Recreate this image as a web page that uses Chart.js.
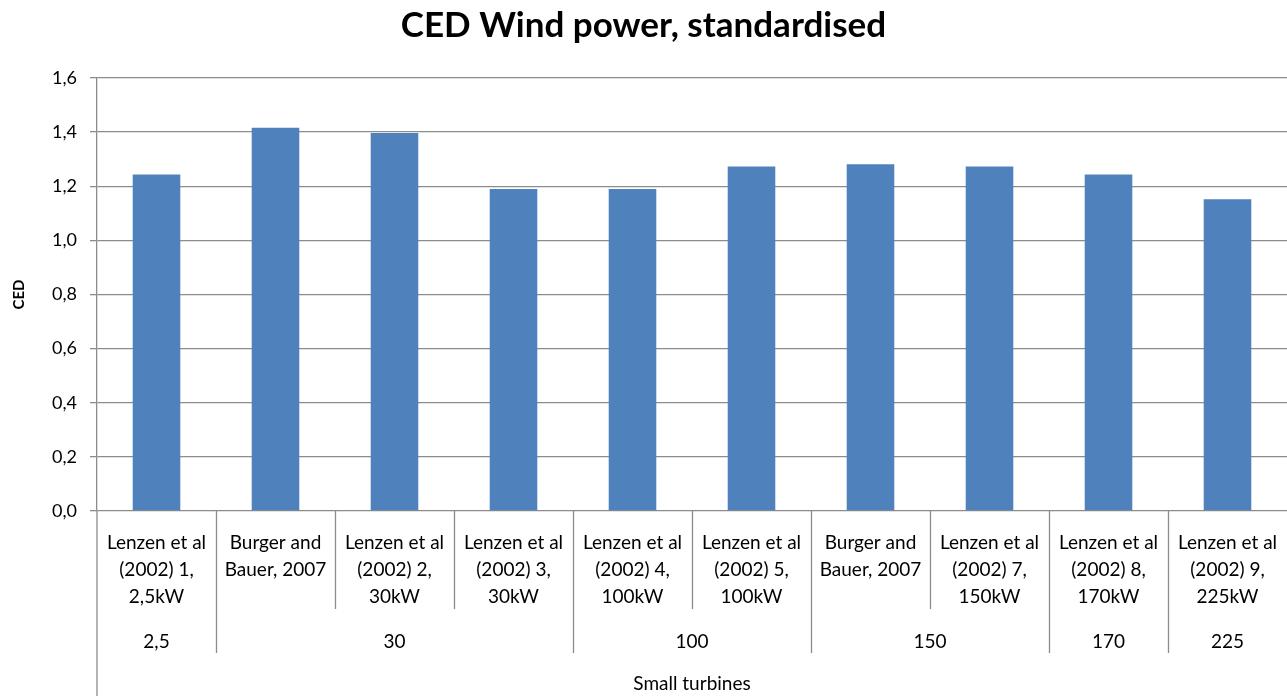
<!DOCTYPE html>
<html>
<head>
<meta charset="utf-8">
<script src="https://cdn.jsdelivr.net/npm/chart.js@4.4.1/dist/chart.umd.min.js"></script>
<style>
    html, body { margin: 0; padding: 0; background: #fff; }
</style>
</head>
<body>
<canvas id="ced-chart" width="1287" height="696"></canvas>
<script>
'use strict';

// data
var sourceLabels = [
    ['Lenzen et al', '(2002) 1,', '2,5kW'],
    ['Burger and', 'Bauer, 2007'],
    ['Lenzen et al', '(2002) 2,', '30kW'],
    ['Lenzen et al', '(2002) 3,', '30kW'],
    ['Lenzen et al', '(2002) 4,', '100kW'],
    ['Lenzen et al', '(2002) 5,', '100kW'],
    ['Burger and', 'Bauer, 2007'],
    ['Lenzen et al', '(2002) 7,', '150kW'],
    ['Lenzen et al', '(2002) 8,', '170kW'],
    ['Lenzen et al', '(2002) 9,', '225kW']
];
var cedValues = [1.243, 1.416, 1.397, 1.19, 1.19, 1.273, 1.281, 1.273, 1.243, 1.152];
var sizeGroups = ['2,5', '30', '100', '150', '170', '225'];
var sizeGroupCounts = [1, 3, 2, 2, 1, 1];
var outerGroup = 'Small turbines';
var yMin = 0, yMax = 1.6, yStep = 0.2;

var FONT = 'Lato, "Open Sans", sans-serif';
var GRID = '#8c8c8c';

// draws the three-level category axis under the plot
var multiLevelAxis = {
    id: 'multiLevelAxis',
    afterDraw: function (chart) {
        var ctx = chart.ctx;
        var area = chart.chartArea;
        var xs = chart.scales.x;
        var base = area.bottom;
        var half = (xs.getPixelForValue(1) - xs.getPixelForValue(0)) / 2;

        var groupEnds = {};
        var acc = 0;
        sizeGroupCounts.forEach(c => { acc += c; groupEnds[acc] = true; });

        ctx.save();
        ctx.strokeStyle = GRID;
        ctx.lineWidth = 1.3;
        ctx.beginPath();
        ctx.moveTo(area.left, base);
        ctx.lineTo(area.left, chart.height);
        for (var i = 1; i < sourceLabels.length; i++) {
            var bx = Math.round(xs.getPixelForValue(i) - half) + 0.5;
            ctx.moveTo(bx, base);
            ctx.lineTo(bx, base + (groupEnds[i] ? 142 : 98));
        }
        ctx.stroke();

        ctx.fillStyle = '#000';
        ctx.textAlign = 'center';
        ctx.textBaseline = 'middle';
        ctx.font = '19px ' + FONT;
        sourceLabels.forEach((lines, i) => {
            var cx = xs.getPixelForValue(i);
            lines.forEach((t, j) => ctx.fillText(t, cx, base + 32 + j * 27));
        });

        var start = 0;
        sizeGroups.forEach((g, k) => {
            var end = start + sizeGroupCounts[k] - 1;
            var cx = (xs.getPixelForValue(start) + xs.getPixelForValue(end)) / 2;
            ctx.fillText(g, cx, base + 131);
            start = end + 1;
        });

        ctx.fillText(outerGroup, (area.left + area.right) / 2, base + 173);
        ctx.restore();
    }
};

new Chart(document.getElementById('ced-chart'), {
    type: 'bar',
    data: {
        labels: sourceLabels,
        datasets: [{
            label: 'CED',
            data: cedValues,
            backgroundColor: '#4f81bd',
            borderWidth: 0,
            categoryPercentage: 0.8,
            barPercentage: 0.5
        }]
    },
    options: {
        responsive: false,
        animation: false,
        layout: { padding: { left: 0, right: 0, top: 0, bottom: 0 } },
        plugins: {
            legend: { display: false },
            tooltip: { enabled: false },
            title: {
                display: true,
                text: 'CED Wind power, standardised',
                color: '#000',
                font: { family: FONT, size: 35, weight: 'bold' },
                padding: { top: 5, bottom: 31 }
            }
        },
        scales: {
            x: {
                ticks: { display: false },
                grid: { display: false },
                border: { display: false },
                afterFit: scale => { scale.height = 185; }
            },
            y: {
                min: yMin,
                max: yMax,
                ticks: {
                    stepSize: yStep,
                    color: '#000',
                    padding: 13,
                    font: { family: FONT, size: 18 },
                    callback: v => v.toFixed(1).replace('.', ',')
                },
                grid: { color: GRID, lineWidth: 1.3, tickLength: 7 },
                border: { color: GRID, width: 1.3 },
                title: {
                    display: true,
                    text: 'CED',
                    color: '#000',
                    font: { family: FONT, size: 15, weight: 'bold' },
                    padding: { top: 10, bottom: 0 }
                },
                afterFit: scale => { scale.width = 97; }
            }
        }
    },
    plugins: [multiLevelAxis]
});
</script>
</body>
</html>
